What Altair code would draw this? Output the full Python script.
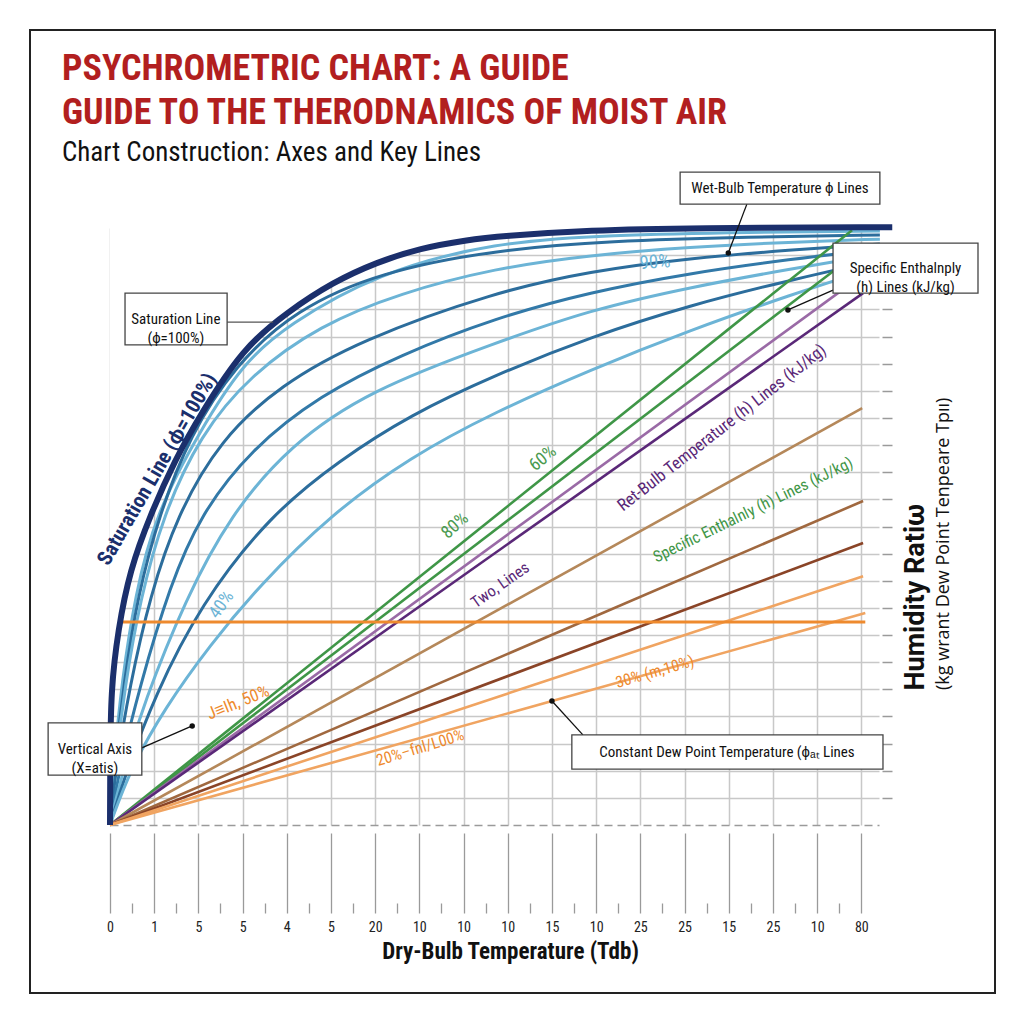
import json
import altair as alt
import pandas as pd

FONT = "Liberation Sans Narrow, Roboto Condensed, Roboto, sans-serif"

# ---------------- data ----------------
x_tick_labels = ["0", "1", "5", "5", "4", "5", "20", "10", "10", "10",
                 "15", "10", "25", "25", "15", "25", "10", "80"]

# saturation line (phi = 100 %)
sat_x = [0, 0.005, 0.02, 0.18, 0.45, 0.91, 1.47, 2.04, 3.01, 4.01, 5.05, 6.04, 7.02, 8.08, 8.83, 10.86, 13.13, 17.70]
sat_y = [0, 2.39, 4.97, 7.18, 9.40, 11.42, 13.45, 15.11, 17.58, 18.90, 20.01, 20.74, 21.26, 21.56, 21.70, 21.92, 22.00, 22.03]

# relative humidity curves (blue family)
rh1_x = [0, 0.07, 0.27, 0.57, 1.02, 2.04, 3.01, 4.01, 6.04, 8.71, 11.31, 14.48, 17.42]
rh1_y = [0, 2.03, 5.34, 8.47, 11.42, 14.55, 17.02, 18.42, 20.34, 21.48, 21.74, 21.85, 21.89]
rh2_x = [0, 0.09, 0.32, 0.63, 1.11, 1.81, 2.83, 4.19, 6.11, 8.71, 11.31, 14.48, 17.42]
rh2_y = [0, 2.03, 5.34, 8.47, 11.42, 14.37, 16.95, 18.98, 20.38, 21.19, 21.52, 21.67, 21.74]
rh3_x = [0, 0.09, 0.34, 0.68, 1.20, 2.04, 3.17, 4.75, 6.56, 8.71, 10.86, 13.13, 15.39, 17.42]
rh3_y = [0, 1.84, 5.16, 8.29, 11.42, 14.37, 16.58, 18.42, 19.60, 20.52, 21.00, 21.30, 21.48, 21.59]
rh4_x = [0, 0.11, 0.45, 0.91, 1.52, 2.49, 3.85, 5.66, 8.71, 10.86, 13.13, 15.39, 17.42]
rh4_y = [0, 1.84, 5.16, 8.47, 11.42, 14.19, 16.21, 17.87, 19.64, 20.41, 20.89, 21.19, 21.41]
rh5_x = [0, 0.18, 0.68, 1.36, 2.04, 3.17, 4.75, 6.56, 8.71, 10.86, 13.13, 15.39, 17.42]
rh5_y = [0, 1.84, 5.16, 8.84, 11.42, 13.82, 15.84, 17.32, 18.68, 19.64, 20.34, 20.85, 21.22]
rh6_x = [0, 0.23, 0.79, 1.70, 2.72, 4.07, 5.88, 8.71, 10.86, 13.13, 15.39, 17.42]
rh6_y = [0, 1.66, 4.61, 8.29, 11.42, 14.00, 16.03, 17.76, 18.98, 19.82, 20.49, 21.04]
rh7_x = [0, 0.34, 1.02, 2.04, 3.62, 5.20, 6.79, 8.71, 10.86, 13.13, 15.39, 17.42]
rh7_y = [0, 1.84, 4.79, 8.11, 11.42, 13.45, 15.11, 16.58, 17.98, 19.16, 20.08, 20.82]
rh8_x = [0, 0.45, 1.24, 2.26, 3.39, 4.98, 6.79, 8.71, 10.86, 13.13, 15.39, 17.42]
rh8_y = [0, 2.03, 4.31, 6.63, 8.84, 11.42, 13.56, 15.22, 16.77, 18.24, 19.53, 20.60]

# straight families radiating from the origin (end points)
ray_names = ["green1", "green2", "purple_light", "purple_dark", "tan",
             "brown", "brown_dark", "orange1", "orange2"]
ray_end_x = [16.79, 16.63, 16.75, 17.04, 17.02, 17.04, 17.04, 17.04, 17.09]
ray_end_y = [21.92, 20.74, 19.93, 19.60, 15.36, 11.94, 10.39, 9.17, 7.81]

# constant (horizontal) line
flat_x = [0.29, 17.09]
flat_y = [7.48, 7.48]

# ---------------- styles ----------------
rh_colors = {"rh1": "#6cb4d6", "rh2": "#2c6d9c", "rh3": "#6cb4d6", "rh4": "#2c6d9c",
             "rh5": "#3279a8", "rh6": "#6cb4d6", "rh7": "#2c6d9c", "rh8": "#6cb4d6"}
ray_colors = {"green1": "#3f9647", "green2": "#3f9647", "purple_light": "#9a6aa6",
              "purple_dark": "#5a2878", "tan": "#b5885a", "brown": "#a0683f",
              "brown_dark": "#8a4427", "orange1": "#f0a461", "orange2": "#f0a461"}
NAVY = "#1b2f6c"
TITLE_RED = "#b21f1f"

XS = alt.Scale(domain=[0, 17.4], nice=False, zero=False)
YS = alt.Scale(domain=[0, 22], nice=False, zero=False)

xaxis = alt.Axis(
    values=[i / 2 for i in range(35)],
    labelExpr="datum.value % 1 == 0 ? " + json.dumps(x_tick_labels) + "[datum.value] : ''",
    grid=True, gridColor="#c8c8c8", gridWidth=1.5,
    gridOpacity={"condition": {"test": "datum.value % 1 != 0", "value": 0}, "value": 1},
    tickSize=88, tickColor="#9a9a9a", tickWidth=1.3,
    tickDash={"condition": {"test": "datum.value % 1 != 0", "value": [0, 78, 10, 10]},
              "value": [0, 8, 80, 10]},
    domain=True, domainColor="#9a9a9a", domainDash=[8, 5], domainWidth=1.5,
    labelFont=FONT, labelFontSize=14, labelColor="#222", labelPadding=7,
    labelAngle=0, labelOverlap=False, labelFlush=False,
    title="Dry-Bulb Temperature (Tdb)", titleFont=FONT, titleFontSize=23,
    titleFontWeight="bold", titleColor="#111", titlePadding=6,
    titleX=400, titleAlign="center",
)
yaxis = alt.Axis(
    orient="right", values=list(range(1, 22)), grid=True, gridColor="#c8c8c8", gridWidth=1.5,
    ticks=True, tickSize=10, tickColor="#9a9a9a", tickWidth=1.5, offset=3,
    labels=False, domain=False,
    title="Humidity Ratiω", titleFont="Roboto, Liberation Sans, sans-serif", titleFontSize=27,
    titleFontWeight="bold",
    titleColor="#111", titleAngle=270, titleAlign="left", titleBaseline="middle",
    titleX=33, titleY=462,
)


def X(field="x"):
    return alt.X(f"{field}:Q", scale=XS, axis=xaxis)


def Y(field="y"):
    return alt.Y(f"{field}:Q", scale=YS, axis=yaxis)


# ---------------- tables ----------------
sat_df = pd.DataFrame({"x": sat_x, "y": sat_y, "top": [22.5] * len(sat_x)})

rh_rows = []
for name, xs, ys in [("rh1", rh1_x, rh1_y), ("rh2", rh2_x, rh2_y), ("rh3", rh3_x, rh3_y),
                     ("rh4", rh4_x, rh4_y), ("rh5", rh5_x, rh5_y), ("rh6", rh6_x, rh6_y),
                     ("rh7", rh7_x, rh7_y), ("rh8", rh8_x, rh8_y)]:
    for xv, yv in zip(xs, ys):
        rh_rows.append({"x": xv, "y": yv, "curve": name, "col": rh_colors[name]})
rh_df = pd.DataFrame(rh_rows)

ray_rows = []
for name, ex, ey in zip(ray_names, ray_end_x, ray_end_y):
    ray_rows.append({"x": 0.0, "y": 0.0, "ray": name, "col": ray_colors[name]})
    ray_rows.append({"x": ex, "y": ey, "ray": name, "col": ray_colors[name]})
ray_df = pd.DataFrame(ray_rows)
flat_df = pd.DataFrame({"x": flat_x, "y": flat_y})

# ---------------- layers ----------------
mask = alt.Chart(sat_df).mark_area(color="white", interpolate="basis").encode(
    x=X(), y=Y(), y2="top:Q")

rh_layer = alt.Chart(rh_df).mark_line(strokeWidth=3, interpolate="basis").encode(
    x=X(), y=Y(), detail="curve:N", color=alt.Color("col:N", scale=None))

ray_layer = alt.Chart(ray_df).mark_line(strokeWidth=2.6).encode(
    x=X(), y=Y(), detail="ray:N", color=alt.Color("col:N", scale=None))

flat_layer = alt.Chart(flat_df).mark_line(strokeWidth=3, color="#ee8a2e").encode(x=X(), y=Y())

sat_layer = alt.Chart(sat_df).mark_line(strokeWidth=6, color=NAVY, interpolate="basis").encode(
    x=X(), y=Y())


def label(text, x, y, angle, color, size, weight="normal"):
    df = pd.DataFrame({"x": [x], "y": [y], "t": [text]})
    return alt.Chart(df).mark_text(angle=angle, color=color, fontSize=size, font=FONT,
                                   fontWeight=weight, align="center", baseline="middle").encode(
        x=X(), y=Y(), text="t:N")


labels = [
    label("Saturation Line (ϕ=100%)", 1.08, 13.1, 300, NAVY, 21, "bold"),
    label("90%", 12.33, 20.74, 356, "#6cb4d6", 19),
    label("60%", 9.8, 13.5, 320, "#4a9a4f", 18),
    label("80%", 7.81, 11.02, 318, "#4a9a4f", 18),
    label("40%", 2.53, 8.11, 305, "#6cb4d6", 18),
    label("Ret-Bulb Temperature (h) Lines (kJ/kg)", 13.85, 14.63, 322, "#5a2878", 17),
    label("Specific Enthalnly (h) Lines (kJ/kg)", 14.55, 11.61, 334, "#3f9647", 16),
    label("Two, Lines", 8.83, 8.84, 325, "#5a2878", 16),
    label("J≡Ih, 50%", 2.90, 4.50, 338, "#ee8a2e", 17),
    label("30% (m,10%)", 12.33, 5.64, 344, "#ee8a2e", 16),
    label("20%–fnl/L00%", 7.02, 2.84, 343, "#ee8a2e", 16),
]

# callouts
box_df = pd.DataFrame({
    "x1": [12.90, 0.34, 16.36, -1.40, 10.45],
    "x2": [17.42, 2.65, 19.64, 0.72, 17.49],
    "y1": [24.06, 19.60, 21.44, 3.76, 3.32],
    "y2": [22.88, 17.69, 19.60, 1.84, 2.06],
    "tx": [15.16, 1.49, 18.0, -0.34, 13.96],
    "ty": [23.47, 18.64, 20.52, 2.80, 2.69],
    "t": ["Wet-Bulb Temperature ϕ Lines", "Saturation Line\n(ϕ=100%)",
          "Specific Enthalnply\n(h) Lines (kJ/kg)", "Vertical Axis\n(X=atis)",
          "Constant Dew Point Temperature (ϕₐₜ Lines"],
})
arrow_df = pd.DataFrame({
    "x": [14.41, 16.36, 0.72, 10.70],
    "y": [22.88, 19.71, 2.84, 3.32],
    "x2": [13.99, 15.34, 1.86, 10.00],
    "y2": [21.08, 18.98, 3.65, 4.57],
})
leader_df = pd.DataFrame({"x": [2.65], "y": [18.53], "x2": [3.69], "y2": [18.53]})

arrows = alt.Chart(arrow_df).mark_rule(color="#111", strokeWidth=1.3).encode(
    x=X(), y=Y(), x2="x2:Q", y2="y2:Q")
tips = alt.Chart(arrow_df).mark_point(filled=True, size=30, color="#111", opacity=1).encode(
    x=X("x2"), y=Y("y2"))
leader = alt.Chart(leader_df).mark_rule(color="#555", strokeWidth=1.3).encode(
    x=X(), y=Y(), x2="x2:Q", y2="y2:Q")
boxes = alt.Chart(box_df).mark_rect(fill="white", stroke="#444", strokeWidth=1.3).encode(
    x=X("x1"), x2="x2:Q", y=Y("y1"), y2="y2:Q")
box_text = alt.Chart(box_df).mark_text(font=FONT, fontSize=15, color="#111", lineBreak="\n",
                                       align="center", baseline="middle", lineHeight=19).encode(
    x=X("tx"), y=Y("ty"), text="t:N")

one = pd.DataFrame({"a": [0]})
right_title2 = alt.Chart(one).mark_text(
    text="(kg  wrant Dew Point Tenpeare Tpıı)", angle=270, align="left", baseline="middle",
    font="Open Sans, Noto Sans, sans-serif", fontSize=18, color="#111").encode(
    x=alt.value(834), y=alt.value(462))

# headings (pixel offsets from the plot's top-left corner)
head1 = alt.Chart(one).mark_text(
    text="PSYCHROMETRIC CHART: A GUIDE", align="left", baseline="alphabetic",
    font=FONT, fontSize=36, fontWeight="bold", color=TITLE_RED).encode(
    x=alt.value(-48), y=alt.value(-148))
head2 = alt.Chart(one).mark_text(
    text="GUIDE TO THE THERODNAMICS OF MOIST AIR", align="left", baseline="alphabetic",
    font=FONT, fontSize=36, fontWeight="bold", color=TITLE_RED).encode(
    x=alt.value(-48), y=alt.value(-104))
head3 = alt.Chart(one).mark_text(
    text="Chart Construction: Axes and Key Lines", align="left", baseline="alphabetic",
    font=FONT, fontSize=27, color="#111").encode(
    x=alt.value(-48), y=alt.value(-67))

frame = alt.Chart(one).mark_rect(fill="transparent", stroke="#222", strokeWidth=2).encode(
    x=alt.value(-80), x2=alt.value(885), y=alt.value(-198), y2=alt.value(765))

chart = alt.layer(
    mask, rh_layer, ray_layer, flat_layer, sat_layer, *labels,
    leader, arrows, tips, boxes, box_text, right_title2, head1, head2, head3, frame,
).properties(
    width=769, height=597,
    padding={"left": 110, "top": 228, "right": 145, "bottom": 199},
    autosize=alt.AutoSizeParams(type="none"),
    background="white",
).configure_view(stroke=None)

chart.save("out.html", embed_options={"renderer": "svg", "actions": False})
